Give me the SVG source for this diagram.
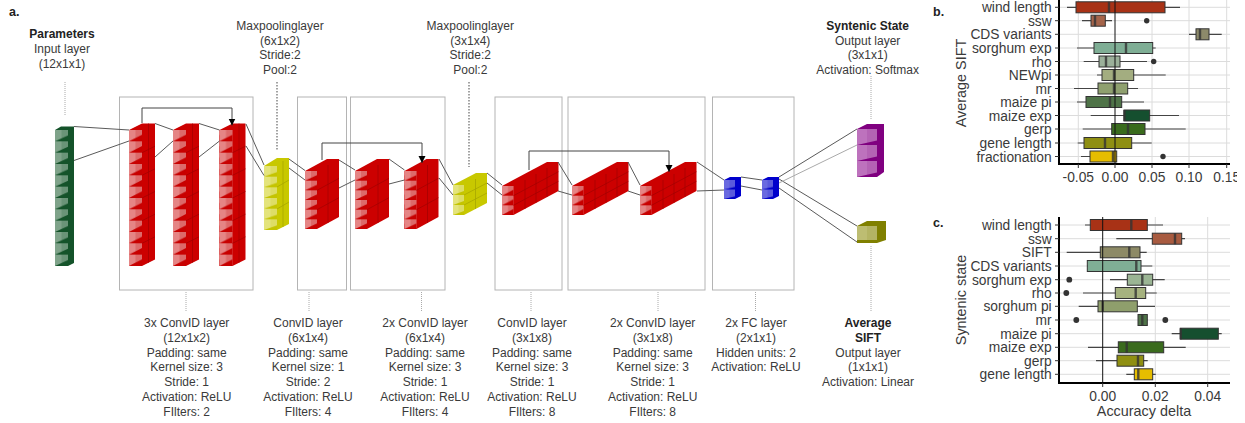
<svg xmlns="http://www.w3.org/2000/svg" width="1245" height="423" viewBox="0 0 1245 423">
<style>
text{font-family:"Liberation Sans",Arial,sans-serif;fill:#3a3a3a}
.lab{font-size:12px;text-anchor:middle}
.b{font-weight:bold;fill:#222}
.pl{font-size:12.5px;font-weight:bold;fill:#222}
.cont{fill:none;stroke:#b4b4b4;stroke-width:1}
.lead{fill:none;stroke:#aaa;stroke-width:1;stroke-dasharray:1 1}
.leadd{fill:none;stroke:#666;stroke-width:1.2;stroke-dasharray:1.5 1.5}
.con{fill:none;stroke:#5a5a5a;stroke-width:1}
.conl{fill:none;stroke:#aaa;stroke-width:1}
.skip{fill:none;stroke:#444;stroke-width:1}
.grid{stroke:#dcdcdc;stroke-width:1;fill:none}
.ax{stroke:#000;stroke-width:2;fill:none}
.tick{stroke:#333;stroke-width:1;fill:none}
.zero{stroke:#111;stroke-width:1;fill:none}
.wh{stroke:#444;stroke-width:1.2;fill:none}
.box{stroke:#333;stroke-width:1}
.med{stroke:#333;stroke-width:2.4;fill:none;stroke-opacity:.8}
.out{fill:#333}
.yt{font-size:13.8px;text-anchor:end}
.xt{font-size:13.8px;text-anchor:middle}
.at{font-size:14.4px;text-anchor:middle}
.rl{stroke:#a00000;stroke-width:.7;fill:none}
.yl{stroke:#a4a400;stroke-width:.7;fill:none}
</style>
<defs>
<marker id="arr" viewBox="0 0 8 8" refX="4" refY="8" markerWidth="8" markerHeight="7" markerUnits="userSpaceOnUse" orient="0"><path d="M0 0H8L4 8Z" fill="#000"/></marker>
<pattern id="pRedT" patternUnits="userSpaceOnUse" width="13" height="11.33"><rect width="13" height="11.33" fill="#e58585"/><rect x="6.500" width="6.500" height="11.33" fill="#dc6a6a"/><path d="M0 11.33L13 4.800V11.33Z" fill="#c80000"/></pattern>
<pattern id="pRedM" patternUnits="userSpaceOnUse" width="12" height="9.67"><rect width="12" height="9.67" fill="#e58585"/><rect x="6" width="6" height="9.67" fill="#dc6a6a"/><path d="M0 9.67L12 4.200V9.67Z" fill="#c80000"/></pattern>
<pattern id="pRedW" patternUnits="userSpaceOnUse" width="11.5" height="9.67"><rect width="11.5" height="9.67" fill="#e58585"/><rect x="6" width="5.500" height="9.67" fill="#dc6a6a"/><path d="M0 9.67L11.500 3.700V9.67Z" fill="#c80000"/></pattern>
<pattern id="pGrn" patternUnits="userSpaceOnUse" width="13" height="11.33"><rect width="13" height="11.33" fill="#7fa38a"/><rect x="6.500" width="6.500" height="11.33" fill="#6a9478"/><path d="M0 11.33L13 5.500V11.33Z" fill="#14532a"/></pattern>
<pattern id="pYelT" patternUnits="userSpaceOnUse" width="13" height="10.67"><rect width="13" height="10.67" fill="#e4e47c"/><rect x="6.500" width="6.500" height="10.67" fill="#dddd66"/><path d="M0 10.67L13 6V10.67Z" fill="#c4c400"/></pattern>
<pattern id="pYelW" patternUnits="userSpaceOnUse" width="11" height="10"><rect width="11" height="10" fill="#e4e47c"/><rect x="5.500" width="5.500" height="10" fill="#dddd66"/><path d="M0 10L11 6V10Z" fill="#c4c400"/></pattern>
<pattern id="pBlu" patternUnits="userSpaceOnUse" width="11" height="9.5"><rect width="11" height="9.5" fill="#6a6ae0"/><rect x="5.500" width="5.500" height="9.5" fill="#5a5adc"/><path d="M0 9.500L11 7V9.500Z" fill="#0000c8"/></pattern>
<pattern id="pPur" patternUnits="userSpaceOnUse" width="20" height="16"><rect width="20" height="16" fill="#bd72bd"/><rect x="10" width="10" height="16" fill="#b463b4"/><path d="M0 16L20 11.500V16Z" fill="#800080"/></pattern>
<g id="redT"><path d="M0 0L13-6.500H26V129.500L13 136H0Z" fill="#cc0000"/><rect width="13" height="136" fill="url(#pRedT)"/><path class="rl" d="M19.500-6.500V132.700M13 22.700L26 16.200M13 45.300L26 38.800M13 68L26 61.500M13 90.700L26 84.200M13 113.300L26 106.800"/></g>
<g id="redM"><path d="M0 0L22-12H34V46L12 58H0Z" fill="#cc0000"/><rect width="12" height="58" fill="url(#pRedM)"/><path class="rl" d="M23-6V52M12 19.300L34 7.300M12 38.700L34 26.700"/></g>
<g id="redW"><path d="M0 0L45-24H56.500V5L11.500 29H0Z" fill="#cc0000"/><rect width="11.500" height="29" fill="url(#pRedW)"/><path class="rl" d="M11.500 9.670L56.500-14.300M11.500 19.300L56.500-4.700M34-12V17M23-6V23M45-18V11"/></g>
<g id="blu"><path d="M0 0L6-3H17V16L11 19H0Z" fill="#0000cc"/><rect width="11" height="19" fill="url(#pBlu)"/></g>
</defs>
<rect width="1245" height="423" fill="#fff"/>
<g id="panel-a">
<text class="pl" x="9" y="15.500">a.</text>
<g id="containers">
<rect class="cont" x="119.500" y="97" width="133.500" height="193"/>
<rect class="cont" x="297.500" y="97" width="49" height="193"/>
<rect class="cont" x="350.500" y="97" width="94.500" height="193"/>
<rect class="cont" x="495" y="97" width="67" height="193"/>
<rect class="cont" x="568" y="97" width="137" height="193"/>
<rect class="cont" x="712.500" y="97" width="81.500" height="193"/>
</g>
<g id="leaders">
<path class="lead" d="M65 82V115M186 292V311M309 292V311M421.500 292V311M531 292V311M658 292V311M755.500 292V311M871 76V120M871 246V312"/>
<path class="leadd" d="M277 82V151M469 82V167"/>
</g>
<g id="node-input"><path d="M55 130L61 126.500H74V263L68 266H55Z" fill="#14532a"/><rect width="13" height="136" fill="url(#pGrn)" transform="translate(55 130)"/></g>
<g id="node-conv1"><use href="#redT" x="129" y="130"/><use href="#redT" x="173" y="130"/><use href="#redT" x="219.500" y="130"/></g>
<g id="node-pool1"><path d="M264 166L277 158H289V224L277 230H264Z" fill="#c8c800"/><rect width="13" height="64" fill="url(#pYelT)" transform="translate(264 166)"/><path class="yl" d="M283 161V227M277 187L289 180M277 209L289 202"/></g>
<g id="node-conv2"><use href="#redM" x="305" y="171"/></g>
<g id="node-conv3"><use href="#redM" x="355" y="171"/><use href="#redM" x="404.500" y="171"/></g>
<g id="node-pool2"><path d="M453 185L476 173H487V203L464 215H453Z" fill="#c8c800"/><rect width="11" height="30" fill="url(#pYelW)" transform="translate(453 185)"/><path class="yl" d="M464 195L487 183M464 205L487 193M475.500 179V209"/></g>
<g id="node-conv4"><use href="#redW" x="502" y="186"/></g>
<g id="node-conv5"><use href="#redW" x="572" y="186"/><use href="#redW" x="640" y="186"/></g>
<g id="node-fc"><use href="#blu" x="724" y="180"/><use href="#blu" x="762" y="180"/></g>
<g id="node-syntenic"><path d="M857 129L867 124H884V172L877 177H857Z" fill="#800080"/><rect width="20" height="48" fill="url(#pPur)" transform="translate(857 129)"/></g>
<g id="node-sift"><path d="M857 226L867 221H886V240L877 243H857Z" fill="#808000"/><rect x="857" y="226" width="20" height="14" fill="#bdbd72"/><rect x="867" y="226" width="10" height="14" fill="#b4b463"/><path d="M857 243L867 240H877V243Z" fill="#808000"/></g>
<g id="connectors">
<path class="con" d="M74 126.500L129 130M74 160.500L129 141M155 123.500L173 130M155 157L173 141M199 123.500L219.500 130M199 157L219.500 141M246 124L264 165M246 146L264 175.500M289 159L305 170.500M289 168L305 180M339 160L355 170M339 188L355 180M389 159L404.500 170M389 184L404.500 180M439 159L453 185M439 178L453 195M487 173L502 185M487 183L502 195M558 162L572 185M558 191L572 195M628 162L640 185M628 191L640 195M697 162L724 180M697 191L724 190M741 177L762 180M741 186L762 190M779 177L857 129M779 179L857 226M779 188L857 242"/>
<path class="conl" d="M779 183L857 145"/>
<path class="skip" marker-end="url(#arr)" d="M142 123V108H232V125.500"/>
<path class="skip" marker-end="url(#arr)" d="M322 160V143H422V163"/>
<path class="skip" marker-end="url(#arr)" d="M529 170V151H669V172"/>
</g>
<g id="labels">
<text class="lab"><tspan class="b" x="62" y="38">Parameters</tspan><tspan x="62" y="53">Input layer</tspan><tspan x="62" y="68">(12x1x1)</tspan></text>
<text class="lab"><tspan x="280" y="29.500">Maxpoolinglayer</tspan><tspan x="280" y="44.500">(6x1x2)</tspan><tspan x="280" y="59.300">Stride:2</tspan><tspan x="280" y="74">Pool:2</tspan></text>
<text class="lab"><tspan x="470.300" y="29.500">Maxpoolinglayer</tspan><tspan x="470.300" y="44.500">(3x1x4)</tspan><tspan x="470.300" y="59.300">Stride:2</tspan><tspan x="470.300" y="74">Pool:2</tspan></text>
<text class="lab"><tspan class="b" x="867.700" y="29.500">Syntenic State</tspan><tspan x="867.700" y="44.500">Output layer</tspan><tspan x="867.700" y="59.300">(3x1x1)</tspan><tspan x="867.700" y="74">Activation: Softmax</tspan></text>
<text class="lab"><tspan x="186.700" y="327">3x ConvID layer</tspan><tspan x="186.700" y="341.800">(12x1x2)</tspan><tspan x="186.700" y="356.600">Padding: same</tspan><tspan x="186.700" y="371.400">Kernel size: 3</tspan><tspan x="186.700" y="386.200">Stride: 1</tspan><tspan x="186.700" y="401">Activation: ReLU</tspan><tspan x="186.700" y="415.800">FIlters: 2</tspan></text>
<text class="lab"><tspan x="308" y="327">ConvID layer</tspan><tspan x="308" y="341.800">(6x1x4)</tspan><tspan x="308" y="356.600">Padding: same</tspan><tspan x="308" y="371.400">Kernel size: 1</tspan><tspan x="308" y="386.200">Stride: 2</tspan><tspan x="308" y="401">Activation: ReLU</tspan><tspan x="308" y="415.800">FIlters: 4</tspan></text>
<text class="lab"><tspan x="425" y="327">2x ConvID layer</tspan><tspan x="425" y="341.800">(6x1x4)</tspan><tspan x="425" y="356.600">Padding: same</tspan><tspan x="425" y="371.400">Kernel size: 3</tspan><tspan x="425" y="386.200">Stride: 1</tspan><tspan x="425" y="401">Activation: ReLU</tspan><tspan x="425" y="415.800">FIlters: 4</tspan></text>
<text class="lab"><tspan x="532" y="327">ConvID layer</tspan><tspan x="532" y="341.800">(3x1x8)</tspan><tspan x="532" y="356.600">Padding: same</tspan><tspan x="532" y="371.400">Kernel size: 3</tspan><tspan x="532" y="386.200">Stride: 1</tspan><tspan x="532" y="401">Activation: ReLU</tspan><tspan x="532" y="415.800">FIlters: 8</tspan></text>
<text class="lab"><tspan x="652.700" y="327">2x ConvID layer</tspan><tspan x="652.700" y="341.800">(3x1x8)</tspan><tspan x="652.700" y="356.600">Padding: same</tspan><tspan x="652.700" y="371.400">Kernel size: 3</tspan><tspan x="652.700" y="386.200">Stride: 1</tspan><tspan x="652.700" y="401">Activation: ReLU</tspan><tspan x="652.700" y="415.800">FIlters: 8</tspan></text>
<text class="lab"><tspan x="756" y="327">2x FC layer</tspan><tspan x="756" y="341.800">(2x1x1)</tspan><tspan x="756" y="356.600">Hidden units: 2</tspan><tspan x="756" y="371.400">Activation: ReLU</tspan></text>
<text class="lab"><tspan class="b" x="868" y="327">Average</tspan><tspan class="b" x="868" y="341.800">SIFT</tspan><tspan x="868" y="356.600">Output layer</tspan><tspan x="868" y="371.400">(1x1x1)</tspan><tspan x="868" y="386.200">Activation: Linear</tspan></text>
</g>
</g>
<g id="panel-b">
<text class="pl" x="933" y="15.500">b.</text>
<path class="grid" d="M1059 7.300H1230M1059 20.700H1230M1059 34.300H1230M1059 48H1230M1059 61.500H1230M1059 75H1230M1059 88.500H1230M1059 102H1230M1059 115.500H1230M1059 129H1230M1059 143H1230M1059 156.500H1230M1078.300 0V164M1152 0V164M1189 0V164M1226.700 0V164"/>
<path class="wh" d="M1067 7.300H1180M1082 20.700H1112M1189 34.300H1221.700M1077 48H1155.700M1083.700 61.500H1147M1097 75H1165.700M1074 88.500H1138M1077 102H1144M1090.700 115.500H1179M1082.700 129H1185.700M1077.700 143H1151.700M1081 156.500H1116.700"/>
<g class="box">
<rect x="1076" y="1.800" width="89" height="11" fill="#a83216"/>
<rect x="1091" y="15.200" width="14.300" height="11" fill="#a5644a"/>
<rect x="1196" y="28.800" width="13" height="11" fill="#8d8a6a"/>
<rect x="1094" y="42.500" width="58.700" height="11" fill="#7fae95"/>
<rect x="1099" y="56" width="21" height="11" fill="#9bb09a"/>
<rect x="1102" y="69.500" width="31.700" height="11" fill="#a3ad80"/>
<rect x="1098" y="83" width="29.700" height="11" fill="#8fa06f"/>
<rect x="1086" y="96.500" width="35.700" height="11" fill="#4f7348"/>
<rect x="1124" y="110" width="25.700" height="11" fill="#154f2f"/>
<rect x="1111.700" y="123.500" width="33.300" height="11" fill="#3a6b1d"/>
<rect x="1084" y="137.500" width="47.700" height="11" fill="#8f8f12"/>
<rect x="1090" y="151" width="26.700" height="11" fill="#e6bd00"/>
</g>
<path class="med" d="M1109 1.800V12.800M1095 15.200V26.200M1200 28.800V39.800M1126 42.500V53.500M1106 56V67M1114 69.500V80.500M1114 83V94M1110 96.500V107.500M1124.500 110V121M1128 123.500V134.500M1105 137.500V148.500M1113 151V162"/>
<path class="zero" d="M1115 0V164"/>
<g class="out"><circle cx="1146.700" cy="20.700" r="2.700"/><circle cx="1153.700" cy="61.500" r="2.700"/><circle cx="1163" cy="156.500" r="2.700"/></g>
<path class="ax" d="M1059 0V164H1230"/>
<path class="tick" d="M1055 7.300H1059M1055 20.700H1059M1055 34.300H1059M1055 48H1059M1055 61.500H1059M1055 75H1059M1055 88.500H1059M1055 102H1059M1055 115.500H1059M1055 129H1059M1055 143H1059M1055 156.500H1059M1078.300 164V168M1115 164V168M1152 164V168M1189 164V168M1226.700 164V168"/>
<text class="yt"><tspan x="1051.700" y="12.300">wind length</tspan><tspan x="1051.700" y="25.700">ssw</tspan><tspan x="1051.700" y="39.300">CDS variants</tspan><tspan x="1051.700" y="53">sorghum exp</tspan><tspan x="1051.700" y="66.500">rho</tspan><tspan x="1051.700" y="80">NEWpi</tspan><tspan x="1051.700" y="93.500">mr</tspan><tspan x="1051.700" y="107">maize pi</tspan><tspan x="1051.700" y="120.500">maize exp</tspan><tspan x="1051.700" y="134">gerp</tspan><tspan x="1051.700" y="148">gene length</tspan><tspan x="1051.700" y="161.500">fractionation</tspan></text>
<clipPath id="clipb"><rect x="1050" y="168" width="187" height="20"/></clipPath>
<g clip-path="url(#clipb)"><text class="xt"><tspan x="1078.300" y="182">-0.05</tspan><tspan x="1115" y="182">0.00</tspan><tspan x="1152" y="182">0.05</tspan><tspan x="1189" y="182">0.10</tspan><tspan x="1226.700" y="182">0.15</tspan></text></g>
<text class="at" transform="translate(966 83) rotate(-90)">Average SIFT</text>
</g>
<g id="panel-c">
<text class="pl" x="933" y="226.700">c.</text>
<path class="grid" d="M1059 225H1230M1059 238.700H1230M1059 252.300H1230M1059 266H1230M1059 279.700H1230M1059 293H1230M1059 306.300H1230M1059 320H1230M1059 333.700H1230M1059 347.300H1230M1059 360.700H1230M1059 374.300H1230M1155.300 217V383M1207.700 217V383"/>
<path class="wh" d="M1085 225H1163M1116.300 238.700H1185M1066.700 252.300H1146.700M1087 266H1152.300M1110 279.700H1164.700M1083 293H1156.700M1078.700 306.300H1155M1138 320H1147.300M1171.700 333.700H1221.700M1088 347.300H1185.700M1096 360.700H1147.700M1126.300 374.300H1155.700"/>
<g class="box">
<rect x="1090.300" y="219.500" width="57" height="11" fill="#a83216"/>
<rect x="1152.300" y="233.200" width="29.400" height="11" fill="#a85b40"/>
<rect x="1100.300" y="246.800" width="39.700" height="11" fill="#8d8a66"/>
<rect x="1087.300" y="260.500" width="53.700" height="11" fill="#7fae95"/>
<rect x="1127.300" y="274.200" width="25.400" height="11" fill="#9bb594"/>
<rect x="1115.300" y="287.500" width="30.400" height="11" fill="#a6b27f"/>
<rect x="1098" y="300.800" width="39.300" height="11" fill="#8f9f6c"/>
<rect x="1138" y="314.500" width="9.300" height="11" fill="#4f7348"/>
<rect x="1180.300" y="328.200" width="38" height="11" fill="#154f2f"/>
<rect x="1118.300" y="341.800" width="45.400" height="11" fill="#3a6b1d"/>
<rect x="1117" y="355.200" width="26.700" height="11" fill="#8f8f12"/>
<rect x="1134.300" y="368.800" width="18.400" height="11" fill="#e6bd00"/>
</g>
<path class="med" d="M1131.300 219.500V230.500M1175 233.200V244.200M1129.300 246.800V257.800M1136.300 260.500V271.500M1142.300 274.200V285.200M1135.700 287.500V298.500M1102.700 300.800V311.800M1142.300 314.500V325.500M1180.800 328.200V339.200M1126.700 341.800V352.800M1138 355.200V366.200M1138.300 368.800V379.800"/>
<path class="zero" d="M1102.700 217V383"/>
<g class="out"><circle cx="1069.300" cy="279.700" r="2.900"/><circle cx="1066.300" cy="293" r="2.900"/><circle cx="1076.300" cy="320" r="2.900"/><circle cx="1165.300" cy="320" r="2.900"/></g>
<path class="ax" d="M1059 217V383H1230"/>
<path class="tick" d="M1055 225H1059M1055 238.700H1059M1055 252.300H1059M1055 266H1059M1055 279.700H1059M1055 293H1059M1055 306.300H1059M1055 320H1059M1055 333.700H1059M1055 347.300H1059M1055 360.700H1059M1055 374.300H1059M1102.700 383V387M1155.300 383V387M1207.700 383V387"/>
<text class="yt"><tspan x="1051.700" y="230">wind length</tspan><tspan x="1051.700" y="243.700">ssw</tspan><tspan x="1051.700" y="257.300">SIFT</tspan><tspan x="1051.700" y="271">CDS variants</tspan><tspan x="1051.700" y="284.700">sorghum exp</tspan><tspan x="1051.700" y="298">rho</tspan><tspan x="1051.700" y="311.300">sorghum pi</tspan><tspan x="1051.700" y="325">mr</tspan><tspan x="1051.700" y="338.700">maize pi</tspan><tspan x="1051.700" y="352.300">maize exp</tspan><tspan x="1051.700" y="365.700">gerp</tspan><tspan x="1051.700" y="379.300">gene length</tspan></text>
<text class="xt"><tspan x="1102.700" y="400.500">0.00</tspan><tspan x="1155.300" y="400.500">0.02</tspan><tspan x="1207.700" y="400.500">0.04</tspan></text>
<text class="at" transform="translate(966 300) rotate(-90)">Syntenic state</text>
<text class="at" x="1144" y="416">Accuracy delta</text>
</g>
</svg>
